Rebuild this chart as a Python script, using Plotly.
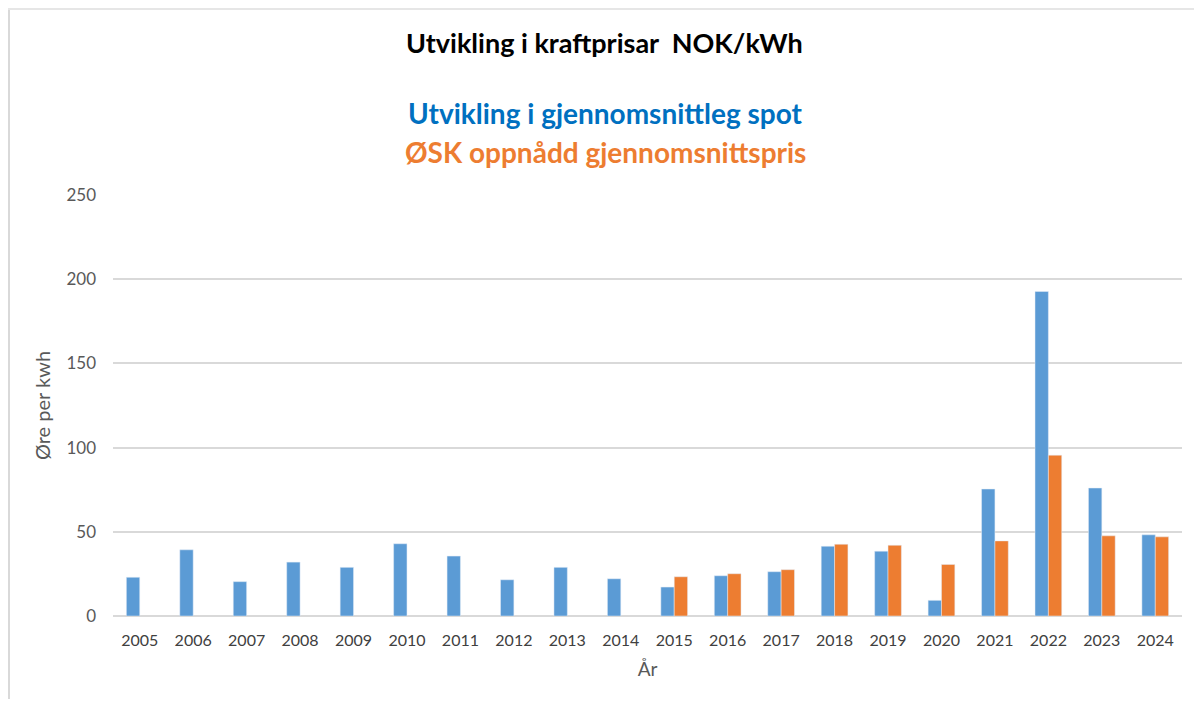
import plotly.graph_objects as go

years = [str(y) for y in range(2005, 2025)]
spot = [23.0, 39.3, 20.4, 32.0, 28.9, 42.9, 35.6, 21.5, 28.9, 22.1,
        17.2, 23.9, 26.3, 41.4, 38.5, 9.3, 75.4, 192.7, 76.0, 48.2]
osk = [None] * 10 + [23.3, 25.1, 27.5, 42.6, 42.0, 30.6, 44.6, 95.5, 47.6, 47.0]

FONT = "Lato"
fig = go.Figure()
fig.add_bar(x=years, y=spot, name="Utvikling i gjennomsnittleg spot", marker_color="#5B9BD5")
fig.add_bar(x=years, y=osk, name="ØSK oppnådd gjennomsnittspris", marker_color="#ED7D31")

# page has an 8px body margin; work in figure pixels = reference pixels - 8
OFF = 8
W, H = 1186, 691
L, T = 113 - OFF, 195 - OFF
R = W - (1182 - OFF)
B = H - (616 - OFF)
pw, ph = W - L - R, H - T - B

def px(x):
    return (x - OFF - L) / pw

def py(y):
    return (H - B - (y - OFF)) / ph

fig.update_layout(
    width=W, height=H,
    margin=dict(l=L, r=R, t=T, b=B),
    paper_bgcolor="white", plot_bgcolor="white",
    barmode="group", bargap=0.5, bargroupgap=0,
    showlegend=False,
    font=dict(family=FONT, color="#595959", size=16),
    xaxis=dict(showgrid=False, showline=False, ticks="", ticklabelstandoff=13,
               tickfont=dict(size=16, color="#404040"),
               title=dict(text="År", font=dict(size=19, color="#595959"), standoff=14)),
    yaxis=dict(range=[0, 250], dtick=50, showgrid=True, gridcolor="#D9D9D9", gridwidth=1.5,
               zeroline=True, zerolinecolor="#D9D9D9", zerolinewidth=1.5,
               ticks="", ticklabelstandoff=16, tickfont=dict(size=17, color="#595959"),
               title=dict(text="Øre per kwh", font=dict(size=20, color="#595959"), standoff=10)),
    annotations=[
        dict(text="<b>Utvikling i kraftprisar  NOK/kWh</b>", x=px(604), y=py(43), xref="paper", yref="paper",
             xanchor="center", yanchor="middle",
             showarrow=False, font=dict(size=27, color="black", family=FONT)),
        dict(text="<b>Utvikling i gjennomsnittleg spot</b>", x=px(605), y=py(113), xref="paper", yref="paper",
             xanchor="center", yanchor="middle",
             showarrow=False, font=dict(size=28, color="#0070C0", family=FONT)),
        dict(text="<b>ØSK oppnådd gjennomsnittspris</b>", x=px(605), y=py(152), xref="paper", yref="paper",
             xanchor="center", yanchor="middle",
             showarrow=False, font=dict(size=28, color="#ED7D31", family=FONT)),
    ],
    shapes=[
        dict(type="line", xref="paper", yref="paper", x0=px(OFF + 1), x1=px(OFF + 1), y0=py(OFF), y1=py(OFF + H),
             line=dict(color="#D9D9D9", width=2), layer="below"),
        dict(type="line", xref="paper", yref="paper", x0=px(OFF), x1=px(OFF + W), y0=py(OFF + 1), y1=py(OFF + 1),
             line=dict(color="#E6E6E6", width=2), layer="below"),
    ],
)

fig.write_html("out.html")
